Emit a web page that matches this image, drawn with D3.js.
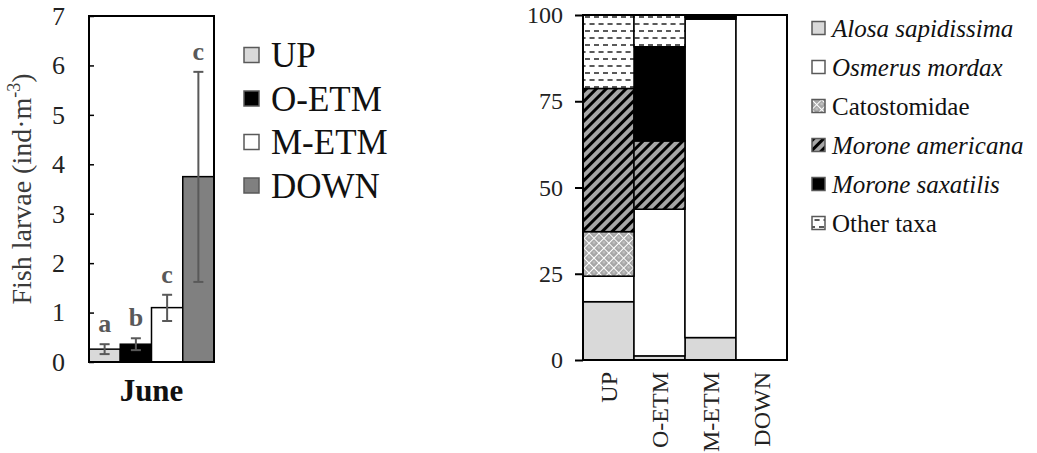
<!DOCTYPE html>
<html><head><meta charset="utf-8">
<script src="https://cdn.jsdelivr.net/npm/d3@7"></script>
<style>
html,body{margin:0;padding:0;background:#fff;}
</style></head>
<body>
<svg id="chart" width="1037" height="453"></svg>
<script>
// ---- Left chart data ----
const sites = ["UP", "O-ETM", "M-ETM", "DOWN"];
const siteColors = ["#d9d9d9", "#000000", "#ffffff", "#808080"];
const larvaeMean = [0.26, 0.36, 1.1, 3.75];
const larvaeLow = [0.16, 0.24, 0.83, 1.62];
const larvaeHigh = [0.36, 0.48, 1.36, 5.87];
const sigLetters = ["a", "b", "c", "c"];
const leftTicks = [0, 1, 2, 3, 4, 5, 6, 7];
const monthLabel = "June";

// ---- Right chart data (percent composition) ----
const taxa = ["Alosa sapidissima", "Osmerus mordax", "Catostomidae", "Morone americana", "Morone saxatilis", "Other taxa"];
const taxaItalic = [true, true, false, true, true, false];
const alosa = [16.9, 1.2, 6.5, 0];
const osmerus = [7.4, 42.5, 92.3, 100];
const catostomidae = [12.9, 0, 0, 0];
const moroneAmericana = [41.5, 19.8, 0, 0];
const moroneSaxatilis = [0, 27.3, 1.2, 0];
const otherTaxa = [21.3, 9.2, 0, 0];
const rightTicks = [0, 25, 50, 75, 100];

const FONT = "'Liberation Serif', 'Times New Roman', Times, serif";

const svg = d3.select("#chart").attr("font-family", FONT);
const defs = svg.append("defs");

// patterns
const pAm = defs.append("pattern").attr("id", "pAm").attr("patternUnits", "userSpaceOnUse")
  .attr("width", 7).attr("height", 7).attr("patternTransform", "rotate(45)");
pAm.append("rect").attr("width", 7).attr("height", 7).attr("fill", "#a6a6a6");
pAm.append("rect").attr("x", 0).attr("y", 0).attr("width", 3).attr("height", 7).attr("fill", "#000");

const pCat = defs.append("pattern").attr("id", "pCat").attr("patternUnits", "userSpaceOnUse")
  .attr("width", 7).attr("height", 7).attr("patternTransform", "rotate(45)");
pCat.append("rect").attr("width", 7).attr("height", 7).attr("fill", "#a6a6a6");
pCat.append("line").attr("x1", 0).attr("x2", 7).attr("y1", 0.5).attr("y2", 0.5).attr("stroke", "#fff").attr("stroke-width", 1);
pCat.append("line").attr("y1", 0).attr("y2", 7).attr("x1", 0.5).attr("x2", 0.5).attr("stroke", "#fff").attr("stroke-width", 1);
pCat.append("circle").attr("cx", 3.5).attr("cy", 3.5).attr("r", 1.2).attr("fill", "#c8c8c8");

const pOth = defs.append("pattern").attr("id", "pOth").attr("patternUnits", "userSpaceOnUse")
  .attr("width", 9).attr("height", 14);
pOth.append("rect").attr("width", 9).attr("height", 14).attr("fill", "#fff");
pOth.append("line").attr("x1", 0).attr("x2", 5).attr("y1", 3).attr("y2", 3).attr("stroke", "#000").attr("stroke-width", 1.3);
pOth.append("line").attr("x1", 4.5).attr("x2", 9).attr("y1", 10).attr("y2", 10).attr("stroke", "#000").attr("stroke-width", 1.3);
pOth.append("line").attr("x1", 0).attr("x2", 0.5).attr("y1", 10).attr("y2", 10).attr("stroke", "#000").attr("stroke-width", 1.3);

const taxaFill = ["#d9d9d9", "#ffffff", "url(#pCat)", "url(#pAm)", "#000000", "url(#pOth)"];

// ================= LEFT CHART =================
const L = {x0: 89, x1: 214, y0: 362, y1: 16};
const xL = d3.scaleBand().domain(sites).range([L.x0, L.x1]).padding(0);
const yL = d3.scaleLinear().domain([0, 7]).range([L.y0, L.y1]);

const gL = svg.append("g");
gL.selectAll("rect.bar").data(sites).join("rect")
  .attr("x", d => xL(d)).attr("width", xL.bandwidth())
  .attr("y", (d, i) => yL(larvaeMean[i])).attr("height", (d, i) => yL(0) - yL(larvaeMean[i]))
  .attr("fill", (d, i) => siteColors[i]).attr("stroke", "#000").attr("stroke-width", 1.5);

// error bars
const eb = gL.selectAll("g.eb").data(sites).join("g").attr("stroke", "#595959").attr("stroke-width", 2);
eb.append("line").attr("x1", d => xL(d) + xL.bandwidth() / 2).attr("x2", d => xL(d) + xL.bandwidth() / 2)
  .attr("y1", (d, i) => yL(larvaeLow[i])).attr("y2", (d, i) => yL(larvaeHigh[i]));
eb.append("line").attr("x1", d => xL(d) + xL.bandwidth() / 2 - 5).attr("x2", d => xL(d) + xL.bandwidth() / 2 + 5)
  .attr("y1", (d, i) => yL(larvaeLow[i])).attr("y2", (d, i) => yL(larvaeLow[i]));
eb.append("line").attr("x1", d => xL(d) + xL.bandwidth() / 2 - 5).attr("x2", d => xL(d) + xL.bandwidth() / 2 + 5)
  .attr("y1", (d, i) => yL(larvaeHigh[i])).attr("y2", (d, i) => yL(larvaeHigh[i]));

gL.selectAll("text.sig").data(sites).join("text")
  .attr("x", d => xL(d) + xL.bandwidth() / 2)
  .attr("y", (d, i) => yL(larvaeHigh[i]) - 12)
  .attr("text-anchor", "middle").attr("font-weight", "bold").attr("font-size", 26).attr("fill", "#595959")
  .attr("font-family", FONT)
  .text((d, i) => sigLetters[i]);

// axis
const axL = gL.append("g").attr("transform", `translate(${L.x0},0)`)
  .call(d3.axisLeft(yL).tickValues(leftTicks).tickFormat(d3.format("d")).tickSizeInner(-5).tickSizeOuter(0).tickPadding(24));
axL.attr("font-family", FONT);
axL.select(".domain").remove();
axL.selectAll("line").attr("stroke", "#000").attr("stroke-width", 1.5);
axL.selectAll("text").attr("font-size", 26).attr("font-family", FONT).attr("fill", "#222");

gL.append("rect").attr("x", L.x0).attr("y", L.y1).attr("width", L.x1 - L.x0).attr("height", L.y0 - L.y1)
  .attr("fill", "none").attr("stroke", "#000").attr("stroke-width", 2);

// y title
const yt = gL.append("text").attr("transform", `translate(31,${(L.y0 + L.y1) / 2}) rotate(-90)`)
  .attr("text-anchor", "middle").attr("font-size", 28).attr("fill", "#3a3a3a").attr("font-family", FONT);
yt.append("tspan").text("Fish larvae (ind·m");
yt.append("tspan").attr("dy", -11).attr("font-size", 18).text("-3");
yt.append("tspan").attr("dy", 11).text(")");

gL.append("text").attr("x", (L.x0 + L.x1) / 2).attr("y", 401).attr("text-anchor", "middle")
  .attr("font-family", FONT)
  .attr("font-weight", "bold").attr("font-size", 31).attr("fill", "#111").text(monthLabel);

// left legend
const legL = gL.append("g");
sites.forEach((s, i) => {
  const cy = 55 + i * 43.5;
  legL.append("rect").attr("x", 244).attr("y", cy - 7.5).attr("width", 15).attr("height", 15)
    .attr("fill", siteColors[i]).attr("stroke", "#595959").attr("stroke-width", 1.5);
  legL.append("text").attr("x", 271).attr("y", cy + 12).attr("font-size", 35).attr("fill", "#111")
    .attr("font-family", FONT).text(s);
});

// ================= RIGHT CHART =================
const R = {x0: 583, x1: 787, y0: 360, y1: 15};
const xR = d3.scaleBand().domain(sites).range([R.x0, R.x1]).padding(0);
const yR = d3.scaleLinear().domain([0, 100]).range([R.y0, R.y1]);

const taxaSeries = [alosa, osmerus, catostomidae, moroneAmericana, moroneSaxatilis, otherTaxa];
const table = sites.map((s, j) => {
  const o = {site: s};
  taxa.forEach((t, k) => o[t] = taxaSeries[k][j]);
  return o;
});
const stacked = d3.stack().keys(taxa)(table);

const gR = svg.append("g");
stacked.forEach((layer, k) => {
  gR.append("g").selectAll("rect").data(layer.filter(d => d[1] - d[0] > 0)).join("rect")
    .attr("x", d => xR(d.data.site)).attr("width", xR.bandwidth())
    .attr("y", d => yR(d[1])).attr("height", d => yR(d[0]) - yR(d[1]))
    .attr("fill", taxaFill[k]).attr("stroke", "#000").attr("stroke-width", 1.5);
});

const axR = gR.append("g").attr("transform", `translate(${R.x0},0)`)
  .call(d3.axisLeft(yR).tickValues(rightTicks).tickSizeInner(8).tickSizeOuter(0).tickPadding(12));
axR.attr("font-family", FONT);
axR.select(".domain").remove();
axR.selectAll("line").attr("stroke", "#000").attr("stroke-width", 2);
axR.selectAll("text").attr("font-size", 24).attr("font-family", FONT).attr("fill", "#222");

gR.append("rect").attr("x", R.x0).attr("y", R.y1).attr("width", R.x1 - R.x0).attr("height", R.y0 - R.y1)
  .attr("fill", "none").attr("stroke", "#000").attr("stroke-width", 2);

gR.selectAll("text.xl").data(sites).join("text")
  .attr("transform", d => `translate(${xR(d) + xR.bandwidth() / 2 + 8},372) rotate(-90)`)
  .attr("font-family", FONT)
  .attr("text-anchor", "end").attr("font-size", 24).attr("fill", "#222").text(d => d);

// right legend
const legR = gR.append("g");
taxa.forEach((t, k) => {
  const cy = 28 + k * 39;
  legR.append("rect").attr("x", 812).attr("y", cy - 6.5).attr("width", 13).attr("height", 13)
    .attr("fill", taxaFill[k]).attr("stroke", "#595959").attr("stroke-width", 1.5);
  legR.append("text").attr("x", 832).attr("y", cy + 9).attr("font-size", 25).attr("fill", "#111")
    .attr("font-family", FONT)
    .attr("font-style", taxaItalic[k] ? "italic" : "normal").text(t);
});
</script>
</body></html>
